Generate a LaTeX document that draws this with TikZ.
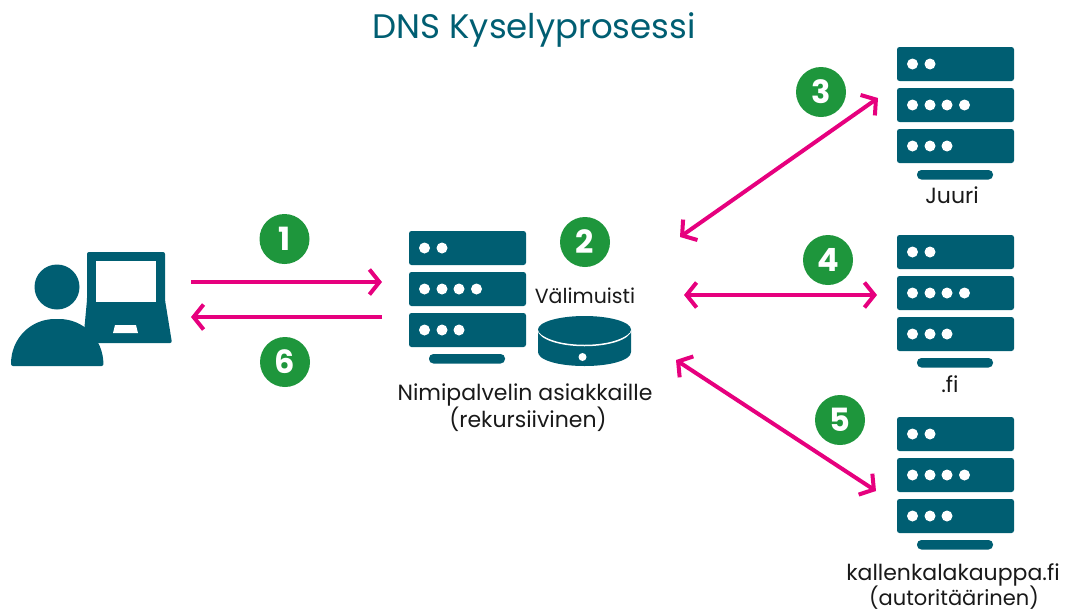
\documentclass[tikz,border=0pt]{standalone}
\usepackage{fontspec}
\setmainfont{Poppins}
\usetikzlibrary{arrows.meta}
\definecolor{teal}{RGB}{0,94,114}
\definecolor{pink}{RGB}{230,0,126}
\definecolor{badge}{RGB}{30,150,60}
\definecolor{ink}{RGB}{25,25,25}
\tikzset{
  x=1pt,y=-1pt,
  conn/.style={draw=pink,line width=4pt},
  tipr/.style={-{Straight Barb[length=10pt,width=25pt,line width=4pt]}},
  tipb/.style={{Straight Barb[length=10pt,width=25pt,line width=4pt]}-{Straight Barb[length=10pt,width=25pt,line width=4pt]}},
  unit/.style={fill=teal,rounded corners=2.5pt},
  led/.style={circle,fill=white,inner sep=0pt,minimum size=11pt},
  num/.style={circle,fill=badge,text=white,inner sep=0pt,minimum size=50pt,font=\fontsize{32}{32}\selectfont\bfseries},
  lab/.style={text=ink,anchor=base,inner sep=0pt,font=\fontsize{22}{26}\selectfont},
}
% #1 name, #2 x, #3 y of the top-left corner of the rack
\newcommand{\rackicon}[3]{%
  \begin{scope}[shift={(#2,#3)}]
    \fill[unit] (0,0) rectangle (117,34);
    \fill[unit] (0,41) rectangle (117,75);
    \fill[unit] (0,82) rectangle (117,116);
    \fill[teal,rounded corners=4.4pt] (20,123) rectangle (96,132.5);
    \foreach \dx in {15.5,33}{\node[led] at (\dx,17) {};}
    \foreach \dx in {15.5,33,50,67.5}{\node[led] at (\dx,58) {};}
    \foreach \dx in {15.5,33,50}{\node[led] at (\dx,99) {};}
    \coordinate (#1) at (58.5,66);
  \end{scope}}
\begin{document}
\begin{tikzpicture}
\useasboundingbox (0,0) rectangle (1068,611);
\node[anchor=base,text=teal,inner sep=0pt,font=\fontsize{34}{40}\selectfont] (title) at (534,38) {DNS Kyselyprosessi};

% user and laptop
\fill[teal,rounded corners=2pt] (87,252) -- (165,252) -- (165,300) -- (172,343) -- (83,343) -- (87,300) -- cycle;
\fill[white] (96,261) rectangle (156,302);
\fill[white] (115,325) -- (136,325) -- (138,333) -- (113,333) -- cycle;
\fill[teal] (57,287) circle (22.5);
\fill[teal,rounded corners=2pt] (11,366) .. controls (11,338) and (31,319) .. (57,319) .. controls (83,319) and (103,338) .. (103.5,366) -- cycle;
\node[inner sep=0pt,minimum width=161pt,minimum height=114pt] (user) at (91.5,309) {};

% servers
\rackicon{sresolver}{409}{231}
\rackicon{sroot}{897}{47}
\rackicon{sfi}{897}{235}
\rackicon{sauth}{897}{417}

% cache disk
\fill[teal] (538,330) -- (538,352) .. controls (538,360) and (558,366) .. (584.5,366) .. controls (611,366) and (631,360) .. (631,352) -- (631,330) -- cycle;
\draw[white,line width=1.5pt] (538,330) .. controls (540,339) and (560,345.5) .. (584.5,345.5) .. controls (609,345.5) and (629,339) .. (631,330);
\fill[teal] (584.5,329.5) ellipse [x radius=46.5,y radius=13.5];
\node[led,minimum size=8pt] (cachedot) at (582.5,357) {};

% labels
\node[lab,font=\fontsize{20.5}{24}\selectfont] (cache) at (585,303) {Välimuisti};
\node[lab] (l1a) at (525,400) {Nimipalvelin asiakkaille};
\node[lab] (l1b) at (528,427) {(rekursiivinen)};
\node[lab] (l2) at (952,203) {Juuri};
\node[lab] (l3) at (950,392) {.fi};
\node[lab] (l4a) at (953,580) {kallenkalakauppa.fi};
\node[lab,font=\fontsize{21}{25}\selectfont] (l4b) at (954,605.5) {(autoritäärinen)};

% connector ends
\coordinate (a1) at (191,282);
\coordinate (b1) at (382,282);
\coordinate (a6) at (382,317);
\coordinate (b6) at (191,317);
\coordinate (a3) at (680,237);
\coordinate (b3) at (878,98);
\coordinate (a4) at (684,295);
\coordinate (b4) at (877,295);
\coordinate (a5) at (676,360);
\coordinate (b5) at (876,491);
\draw[conn,tipr] (a1) -- (b1);
\draw[conn,tipr] (a6) -- (b6);
\draw[conn,tipb] (a3) -- (b3);
\draw[conn,tipb] (a4) -- (b4);
\draw[conn,tipb] (a5) -- (b5);

% numbers
\node[num] (n1) at (284.5,239) {1};
\node[num] (n2) at (585,242) {2};
\node[num] (n3) at (821,92) {3};
\node[num] (n4) at (828,260) {4};
\node[num] (n5) at (840,420) {5};
\node[num] (n6) at (285,362) {6};
\end{tikzpicture}
\end{document}
